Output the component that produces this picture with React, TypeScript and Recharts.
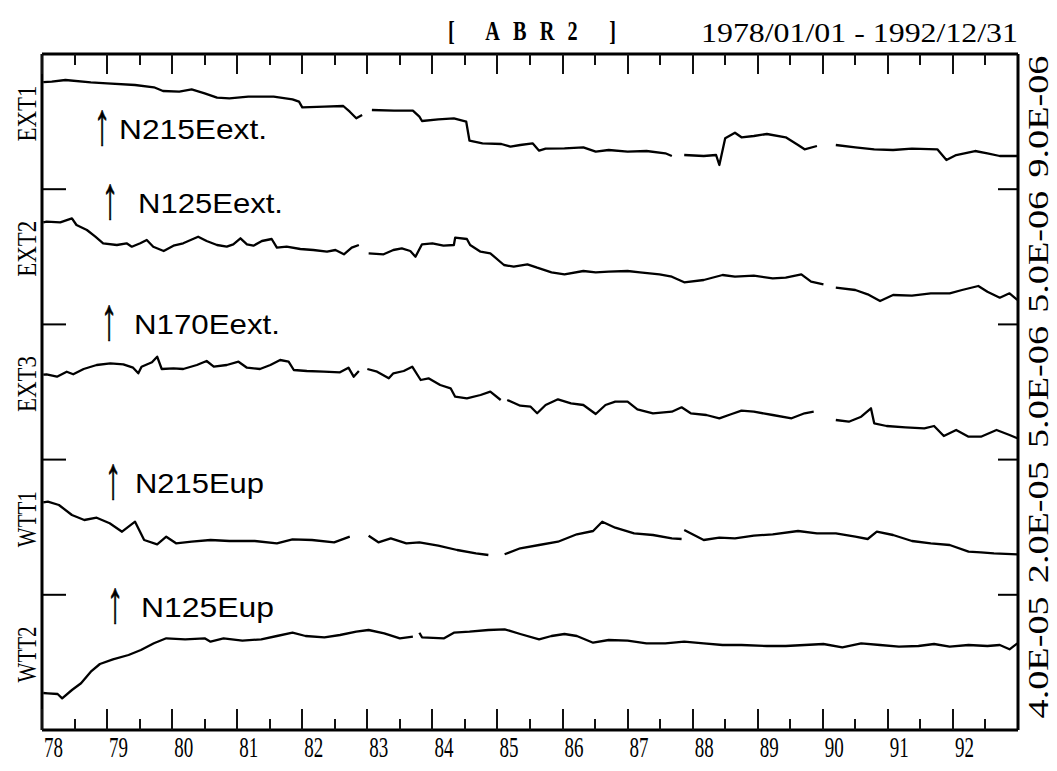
import React from 'react';
import { LineChart, Line, XAxis, YAxis } from 'recharts';

const W = 1057;
const H = 771;
const TOP = 54;
const BOTTOM = 730;
const LEFT = 42;
const RIGHT = 1018;
const BAND = (BOTTOM - TOP) / 5;
const X0 = 1978;
const X1 = 1993;

const title = '[ ABR2 ]';
const period = '1978/01/01 - 1992/12/31';
const yearTicks = [
  1978, 1978.5, 1979, 1979.5, 1980, 1980.5, 1981, 1981.5, 1982, 1982.5, 1983, 1983.5,
  1984, 1984.5, 1985, 1985.5, 1986, 1986.5, 1987, 1987.5, 1988, 1988.5, 1989, 1989.5,
  1990, 1990.5, 1991, 1991.5, 1992, 1992.5,
];
const yearLabels = ['78', '79', '80', '81', '82', '83', '84', '85', '86', '87', '88', '89', '90', '91', '92'];
const bandTicks = [0.5, 1, 1.5, 2, 2.5, 3, 3.5, 4, 4.5];
const seriesNames = ['EXT1', 'EXT2', 'EXT3', 'WTT1', 'WTT2'];
const scaleLabels = ['9.0E-06', '5.0E-06', '5.0E-06', '2.0E-05', '4.0E-05'];
const componentLabels = ['N215Eext.', 'N125Eext.', 'N170Eext.', 'N215Eup', 'N125Eup'];

type P = [number, number | null];

const ext1: P[] = [
  [1978.02, 107.0], [1978.15, 107.5], [1978.36, 109.2], [1978.75, 106.9], [1979.0, 105.9], [1979.43, 104.2],
  [1979.72, 101.9], [1979.86, 98.2], [1980.11, 97.5], [1980.3, 99.9], [1980.5, 95.9], [1980.69, 91.5],
  [1980.88, 90.9], [1981.17, 92.5], [1981.56, 92.5], [1981.85, 89.9], [1981.95, 87.5], [1982.0, 81.9],
  [1982.34, 82.5], [1982.63, 83.2], [1982.73, 77.5], [1982.83, 70.9], [1982.92, 74.2], [1982.97, null],
  [1983.07, 79.2], [1983.41, 78.5], [1983.7, 78.5], [1983.8, 72.5], [1983.84, 68.2], [1984.09, 69.9],
  [1984.33, 70.9], [1984.52, 67.5], [1984.57, 48.5], [1984.77, 45.9], [1985.06, 45.2], [1985.2, 42.5],
  [1985.35, 44.2], [1985.54, 45.9], [1985.64, 38.5], [1985.74, 40.5], [1986.03, 40.9], [1986.32, 41.9],
  [1986.51, 37.5], [1986.71, 39.2], [1987.0, 37.5], [1987.29, 38.2], [1987.58, 35.9], [1987.68, 33.2],
  [1987.75, null], [1987.87, 34.2], [1988.17, 33.2], [1988.36, 34.2], [1988.41, 24.2], [1988.5, 50.9],
  [1988.65, 56.5], [1988.75, 51.9], [1988.94, 53.2], [1989.14, 55.2], [1989.43, 51.9], [1989.62, 44.2],
  [1989.72, 39.9], [1989.91, 43.2], [1990.05, null], [1990.2, 44.2], [1990.5, 41.9], [1990.79, 39.9],
  [1991.08, 39.2], [1991.37, 40.5], [1991.76, 39.9], [1991.9, 29.2], [1992.05, 34.2], [1992.34, 38.2],
  [1992.53, 35.9], [1992.72, 33.2], [1992.99, 33.2],
];

const ext2: P[] = [
  [1978.02, 102.0], [1978.07, 102.7], [1978.28, 102.1], [1978.46, 106.1], [1978.53, 99.4], [1978.69, 94.4],
  [1978.82, 87.7], [1978.94, 81.1], [1979.15, 79.4], [1979.3, 81.1], [1979.38, 77.7], [1979.51, 81.1],
  [1979.61, 84.4], [1979.71, 77.7], [1979.87, 73.4], [1980.02, 78.7], [1980.17, 81.1], [1980.4, 87.7],
  [1980.53, 83.4], [1980.69, 79.4], [1980.84, 77.7], [1980.94, 80.1], [1981.05, 86.1], [1981.15, 80.1],
  [1981.25, 78.7], [1981.38, 83.4], [1981.53, 85.4], [1981.61, 76.7], [1981.76, 77.7], [1981.97, 75.4],
  [1982.17, 74.4], [1982.38, 72.7], [1982.51, 74.4], [1982.64, 70.1], [1982.76, 76.7], [1982.87, 79.4],
  [1982.95, null], [1983.02, 71.1], [1983.25, 70.1], [1983.4, 74.4], [1983.53, 76.1], [1983.66, 73.4],
  [1983.74, 67.7], [1983.84, 80.1], [1984.0, 81.1], [1984.17, 78.7], [1984.33, 79.4], [1984.35, 86.7],
  [1984.53, 85.4], [1984.58, 79.4], [1984.74, 72.7], [1984.89, 71.1], [1985.1, 59.4], [1985.25, 57.7],
  [1985.46, 60.1], [1985.61, 56.7], [1985.83, 52.1], [1986.03, 50.1], [1986.32, 53.4], [1986.51, 52.1],
  [1986.71, 52.7], [1987.0, 53.4], [1987.19, 52.1], [1987.49, 50.1], [1987.68, 47.7], [1987.87, 42.1],
  [1988.17, 44.4], [1988.46, 49.4], [1988.65, 47.7], [1988.94, 48.7], [1989.23, 46.1], [1989.43, 46.7],
  [1989.67, 50.1], [1989.82, 42.7], [1990.01, 40.1], [1990.1, null], [1990.2, 36.7], [1990.5, 34.4],
  [1990.69, 30.1], [1990.88, 23.4], [1991.08, 29.4], [1991.37, 28.7], [1991.66, 31.1], [1991.95, 31.1],
  [1992.14, 34.4], [1992.39, 38.4], [1992.53, 32.7], [1992.72, 26.7], [1992.87, 31.1], [1992.99, 24.4],
];

const ext3: P[] = [
  [1978.02, 85.0], [1978.07, 85.3], [1978.23, 82.9], [1978.38, 87.9], [1978.48, 85.3], [1978.64, 90.6],
  [1978.84, 94.6], [1979.05, 96.3], [1979.25, 95.3], [1979.4, 91.9], [1979.48, 86.3], [1979.53, 92.9],
  [1979.69, 97.3], [1979.77, 102.9], [1979.84, 90.6], [1980.02, 91.3], [1980.17, 90.6], [1980.38, 94.6],
  [1980.53, 98.6], [1980.64, 92.9], [1980.84, 94.6], [1981.02, 97.9], [1981.15, 91.9], [1981.35, 90.6],
  [1981.51, 94.6], [1981.66, 99.6], [1981.79, 97.9], [1981.87, 89.6], [1982.07, 88.6], [1982.33, 87.9],
  [1982.58, 87.3], [1982.71, 91.9], [1982.79, 82.9], [1982.87, 88.6], [1982.94, null], [1983.0, 90.6],
  [1983.15, 87.9], [1983.33, 81.3], [1983.4, 86.3], [1983.56, 88.6], [1983.69, 92.9], [1983.82, 79.6],
  [1983.94, 81.3], [1984.12, 74.6], [1984.28, 71.3], [1984.35, 62.9], [1984.53, 61.3], [1984.74, 64.6],
  [1984.89, 67.9], [1985.05, 59.6], [1985.1, null], [1985.15, 59.6], [1985.35, 53.9], [1985.51, 52.9],
  [1985.61, 46.3], [1985.74, 54.6], [1985.93, 60.3], [1986.13, 56.3], [1986.32, 54.6], [1986.51, 45.6],
  [1986.66, 54.6], [1986.81, 57.9], [1987.0, 57.9], [1987.15, 50.3], [1987.39, 46.3], [1987.68, 47.9],
  [1987.83, 52.3], [1987.97, 46.3], [1988.21, 44.6], [1988.41, 41.3], [1988.6, 45.6], [1988.75, 48.9],
  [1988.94, 47.9], [1989.23, 44.6], [1989.52, 41.3], [1989.72, 46.3], [1989.86, 47.9], [1990.05, null],
  [1990.2, 39.6], [1990.4, 37.9], [1990.59, 42.9], [1990.74, 51.3], [1990.79, 36.3], [1990.98, 33.6],
  [1991.27, 32.3], [1991.56, 31.3], [1991.71, 33.6], [1991.86, 23.6], [1992.05, 29.6], [1992.24, 22.9],
  [1992.43, 22.9], [1992.67, 29.6], [1992.87, 24.6], [1992.99, 21.3],
];

const wtt1: P[] = [
  [1978.02, 92.5], [1978.09, 93.1], [1978.26, 89.8], [1978.46, 79.8], [1978.65, 74.8], [1978.84, 77.1],
  [1979.04, 71.5], [1979.23, 63.1], [1979.43, 73.1], [1979.57, 54.8], [1979.77, 50.5], [1979.91, 58.1],
  [1980.06, 51.5], [1980.3, 53.1], [1980.59, 54.8], [1980.88, 53.8], [1981.27, 53.8], [1981.61, 51.5],
  [1981.85, 55.5], [1982.15, 54.8], [1982.49, 52.5], [1982.73, 58.1], [1982.88, null], [1983.02, 59.1],
  [1983.17, 52.5], [1983.36, 56.5], [1983.6, 51.5], [1983.8, 52.5], [1984.09, 49.1], [1984.38, 44.8],
  [1984.67, 41.5], [1984.86, 39.8], [1984.98, null], [1985.11, 40.5], [1985.35, 46.5], [1985.64, 49.8],
  [1985.93, 53.1], [1986.22, 60.5], [1986.47, 63.8], [1986.61, 73.1], [1986.81, 67.1], [1987.1, 61.5],
  [1987.39, 59.8], [1987.68, 56.5], [1987.83, 55.8], [1987.85, null], [1987.87, 64.8], [1988.17, 54.8],
  [1988.41, 57.1], [1988.65, 56.5], [1988.94, 59.1], [1989.23, 60.5], [1989.62, 63.8], [1989.91, 61.5],
  [1990.2, 61.5], [1990.5, 58.1], [1990.69, 55.8], [1990.83, 63.1], [1991.08, 59.8], [1991.37, 53.8],
  [1991.66, 51.5], [1991.95, 49.8], [1992.24, 43.1], [1992.43, 42.5], [1992.63, 41.5], [1992.99, 40.5],
];

const wtt2: P[] = [
  [1978.02, 37.0], [1978.09, 36.7], [1978.24, 36.0], [1978.31, 31.7], [1978.46, 40.0], [1978.6, 46.7],
  [1978.75, 58.3], [1978.89, 66.0], [1979.09, 70.7], [1979.33, 75.0], [1979.52, 80.0], [1979.72, 86.7],
  [1979.91, 91.7], [1980.2, 90.7], [1980.5, 91.7], [1980.59, 88.3], [1980.79, 91.7], [1981.08, 89.3],
  [1981.37, 90.7], [1981.61, 94.0], [1981.85, 97.3], [1982.05, 94.0], [1982.34, 92.7], [1982.58, 95.0],
  [1982.83, 98.3], [1983.02, 100.0], [1983.26, 96.7], [1983.5, 91.7], [1983.7, 93.3], [1983.75, null],
  [1983.8, 97.3], [1983.84, 92.7], [1984.18, 91.7], [1984.33, 97.3], [1984.57, 98.3], [1984.86, 100.0],
  [1985.11, 100.7], [1985.35, 96.0], [1985.64, 90.7], [1985.83, 94.0], [1986.03, 96.0], [1986.22, 94.0],
  [1986.47, 87.3], [1986.71, 90.0], [1987.0, 89.3], [1987.29, 86.7], [1987.58, 86.7], [1987.87, 88.3],
  [1988.17, 86.7], [1988.46, 85.0], [1988.75, 85.0], [1989.14, 84.0], [1989.43, 84.0], [1989.72, 85.0],
  [1990.01, 86.0], [1990.3, 82.7], [1990.59, 86.7], [1990.88, 85.0], [1991.17, 83.3], [1991.47, 84.0],
  [1991.71, 86.0], [1991.95, 83.3], [1992.24, 85.0], [1992.53, 84.0], [1992.72, 85.0], [1992.87, 80.7],
  [1992.99, 86.7],
];

const allSeries = [ext1, ext2, ext3, wtt1, wtt2];

const SERIF = '"Liberation Serif", "DejaVu Serif", serif';
const SANS = '"Liberation Sans", Arial, sans-serif';

function Txt(props: {
  x: number; y: number; children: React.ReactNode; size: number; family?: string; sx?: number; sy?: number;
  len?: number; adjust?: string; rot?: number; anchor?: string; weight?: string | number; stroke?: number;
}) {
  const { x, y, children, size, family = SERIF, sx = 1, sy = 1, len, adjust = 'spacingAndGlyphs', rot = 0, anchor = 'start', weight = 'normal', stroke } = props;
  return (
    <text
      transform={`translate(${x},${y}) rotate(${rot}) scale(${sx},${sy})`}
      x={0}
      y={0}
      fontSize={size}
      fontFamily={family}
      fontWeight={weight as any}
      textAnchor={anchor as any}
      fill="#000"
      stroke={stroke ? '#000' : undefined}
      strokeWidth={stroke}
      textLength={len ? len / sx : undefined}
      lengthAdjust={len ? (adjust as any) : undefined}
    >
      {children}
    </text>
  );
}

const isMajor = (t: number) => Math.abs(t - Math.round(t)) < 1e-6;

const BottomTick = (props: any) => {
  const { x, y, payload } = props;
  const v = payload.value as number;
  const len = isMajor(v) ? 21 : 11;
  const px = Math.round(x);
  return (
    <g>
      <rect x={px - 1} y={Math.round(y) - len} width={2} height={len} fill="#111" />
      {isMajor(v) && (
        <Txt x={x + 2} y={y + 27} size={29} sx={0.62} len={19}>
          {yearLabels[Math.round(v) - 1978]}
        </Txt>
      )}
    </g>
  );
};

const TopTick = (props: any) => {
  const { x, y, payload } = props;
  const v = payload.value as number;
  const len = isMajor(v) ? 20 : 11;
  const px = Math.round(x);
  return (
    <g>
      <rect x={px - 1} y={Math.round(y)} width={2} height={len} fill="#111" />
    </g>
  );
};

const LeftTick = (props: any) => {
  const { x, y, payload } = props;
  const v = payload.value as number;
  if (isMajor(v)) {
    return (
      <g>
        <line x1={x} x2={x + 24} y1={y} y2={y} stroke="#000" strokeWidth={2} />
      </g>
    );
  }
  const idx = Math.round(4.5 - v);
  return (
    <Txt x={36} y={y - 8} size={27} rot={-90} anchor="middle" len={56}>
      {seriesNames[idx]}
    </Txt>
  );
};

const RightTick = (props: any) => {
  const { x, y, payload } = props;
  const v = payload.value as number;
  if (isMajor(v)) {
    return (
      <g>
        <line x1={x - 20} x2={x} y1={y} y2={y} stroke="#000" strokeWidth={2} />
      </g>
    );
  }
  const idx = Math.round(4.5 - v);
  return (
    <Txt x={1048} y={y - 5} size={30} rot={-90} anchor="middle" len={122}>
      {scaleLabels[idx]}
    </Txt>
  );
};

const annotations = [
  { ax: 102, tx: 119, by: 139, len: 148 },
  { ax: 110, tx: 138, by: 213, len: 145 },
  { ax: 109, tx: 134, by: 334, len: 146 },
  { ax: 113, tx: 135, by: 493, len: 129 },
  { ax: 115, tx: 141, by: 617, len: 133 },
];

export default function App() {
  return (
    <div style={{ position: 'relative', width: W, height: H, background: '#fff' }}>
      <style>{'body{margin:0;background:#fff}'}</style>
      <LineChart width={W} height={H} margin={{ top: 0, right: 0, bottom: 0, left: 0 }}>
        <XAxis
          xAxisId="b"
          type="number"
          dataKey="t"
          domain={[X0, X1]}
          allowDataOverflow
          orientation="bottom"
          height={H - BOTTOM}
          ticks={yearTicks}
          interval={0}
          tickSize={0}
          tickMargin={0}
          tickLine={false}
          tick={<BottomTick />}
          axisLine={{ stroke: '#000', strokeWidth: 3 }}
        />
        <XAxis
          xAxisId="t"
          type="number"
          dataKey="t"
          domain={[X0, X1]}
          allowDataOverflow
          orientation="top"
          height={TOP}
          ticks={yearTicks}
          interval={0}
          tickSize={0}
          tickMargin={0}
          tickLine={false}
          tick={<TopTick />}
          axisLine={{ stroke: '#000', strokeWidth: 3 }}
        />
        <YAxis
          yAxisId="L"
          type="number"
          domain={[0, 5]}
          allowDataOverflow
          orientation="left"
          width={LEFT}
          ticks={bandTicks}
          interval={0}
          tickSize={0}
          tickMargin={0}
          tickLine={false}
          tick={<LeftTick />}
          axisLine={{ stroke: '#000', strokeWidth: 3 }}
        />
        <YAxis
          yAxisId="R"
          type="number"
          domain={[0, 5]}
          allowDataOverflow
          orientation="right"
          width={W - RIGHT}
          ticks={bandTicks}
          interval={0}
          tickSize={0}
          tickMargin={0}
          tickLine={false}
          tick={<RightTick />}
          axisLine={{ stroke: '#000', strokeWidth: 3 }}
        />
        {allSeries.map((_, i) => (
          <YAxis
            key={`ya${i}`}
            yAxisId={`s${i}`}
            type="number"
            hide
            allowDataOverflow
            domain={[-(4 - i) * BAND, (i + 1) * BAND]}
          />
        ))}
        {allSeries.map((s, i) => (
          <Line
            key={`ln${i}`}
            data={s.map(([t, v]) => ({ t, v }))}
            dataKey="v"
            xAxisId="b"
            yAxisId={`s${i}`}
            type="linear"
            stroke="#000"
            strokeWidth={2.3}
            strokeLinejoin="round"
            dot={false}
            activeDot={false}
            connectNulls={false}
            isAnimationActive={false}
          />
        ))}
      </LineChart>
      <svg
        width={W}
        height={H}
        style={{ position: 'absolute', left: 0, top: 0, pointerEvents: 'none' }}
      >
        <Txt x={448} y={40} size={27} weight="bold" sx={0.75} len={168} adjust="spacing">
          {title}
        </Txt>
        <Txt x={701} y={42} size={28} len={317}>
          {period}
        </Txt>
        {annotations.map((a, i) => (
          <g key={`an${i}`}>
            <Txt x={a.ax} y={a.by + 5} size={60} sx={0.55} family={SANS} anchor="middle" stroke={0.8}>
              {'↑'}
            </Txt>
            <Txt x={a.tx} y={a.by} size={28} family={SANS} len={a.len}>
              {componentLabels[i]}
            </Txt>
          </g>
        ))}
      </svg>
    </div>
  );
}
